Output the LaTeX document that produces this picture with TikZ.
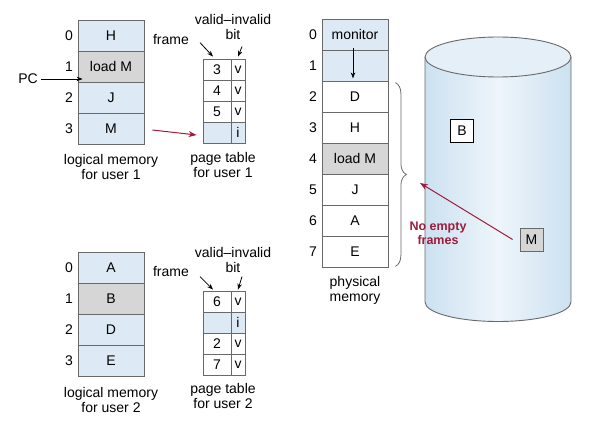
\documentclass[tikz,border=0pt]{standalone}
\usepackage{fontspec}
\setmainfont{Liberation Sans}
\usetikzlibrary{arrows.meta,decorations.pathreplacing}
\definecolor{memblue}{RGB}{221,234,245}
\definecolor{memgray}{RGB}{214,214,214}
\definecolor{edgec}{RGB}{105,105,105}
\definecolor{arrowred}{RGB}{158,28,60}
\definecolor{cylside}{RGB}{204,225,240}
\definecolor{cylmid}{RGB}{238,245,251}
\definecolor{cyltop}{RGB}{228,239,248}
\begin{document}
\begin{tikzpicture}[x=1pt,y=-1pt,
  txt/.style={font=\fontsize{14}{15}\selectfont, inner sep=0pt},
  cell/.style={txt, draw=edgec, line width=0.8pt, fill=memblue, minimum width=66pt, minimum height=31pt},
  wcell/.style={cell, fill=white},
  gcell/.style={cell, fill=memgray},
  ptf/.style={txt, draw=edgec, line width=0.8pt, fill=white, minimum width=28pt, minimum height=21pt},
  ptb/.style={txt, draw=edgec, line width=0.8pt, fill=white, minimum width=14pt, minimum height=21pt},
  lbl/.style={txt},
  capt/.style={txt, align=center},
  blkarrow/.style={draw=black, line width=0.8pt, -{Stealth[length=6pt,width=4.5pt]}},
  redarrow/.style={draw=arrowred, line width=1pt, -{Stealth[length=8pt,width=6pt,inset=2.5pt]}}
]
\useasboundingbox (0,0) rectangle (590,436);

% ---------- user 1 logical memory ----------
\node[cell]  (lA0) at (111,35.5)  {H};
\node[gcell] (lA1) at (111,66.5)  {load M};
\node[cell]  (lA2) at (111,97.5)  {J};
\node[cell]  (lA3) at (111,128.5) {M};
\node[lbl] (nA0) at (69,35.5)  {0};
\node[lbl] (nA1) at (69,66.5)  {1};
\node[lbl] (nA2) at (69,97.5)  {2};
\node[lbl] (nA3) at (69,128.5) {3};
\node[lbl] (pc) at (28,79) {PC};
\draw[blkarrow] ([xshift=3pt]pc.east) -- ([xshift=5pt]pc.east -| lA1.west);
\node[capt] (capA) at (111,166.5) {logical memory\\for user 1};

% ---------- user 1 page table ----------
\node[ptf] (fA0) at (217,69.5)  {3};
\node[ptb] (bA0) at (238,69.5)  {v};
\node[ptf] (fA1) at (217,90.5)  {4};
\node[ptb] (bA1) at (238,90.5)  {v};
\node[ptf] (fA2) at (217,111.5) {5};
\node[ptb] (bA2) at (238,111.5) {v};
\node[ptf,fill=memblue] (fA3) at (217,132.5) {};
\node[ptb,fill=memblue] (bA3) at (238,132.5) {i};
\node[lbl] (frA) at (171,40) {frame};
\node[capt] (viA) at (233,27) {valid–invalid\\bit};
\draw[blkarrow] ([xshift=-17pt,yshift=16pt]fA0.north) -- ([xshift=-4pt,yshift=2pt]fA0.north);
\draw[blkarrow] ([xshift=4pt,yshift=12pt]bA0.north) -- ([yshift=2pt]bA0.north);
\node[capt] (capPA) at (223,164.5) {page table\\for user 1};
\draw[redarrow] ([xshift=8pt,yshift=-1.5pt]lA3.east) -- ([xshift=-6pt,yshift=-2.5pt]fA3.west);

% ---------- user 2 logical memory ----------
\node[cell]  (lB0) at (111,267.5) {A};
\node[gcell] (lB1) at (111,298.5) {B};
\node[cell]  (lB2) at (111,329.5) {D};
\node[cell]  (lB3) at (111,360.5) {E};
\node[lbl] (nB0) at (69,267.5) {0};
\node[lbl] (nB1) at (69,298.5) {1};
\node[lbl] (nB2) at (69,329.5) {2};
\node[lbl] (nB3) at (69,360.5) {3};
\node[capt] (capB) at (111,399.5) {logical memory\\for user 2};

% ---------- user 2 page table ----------
\node[ptf] (fB0) at (217,301.5) {6};
\node[ptb] (bB0) at (238,301.5) {v};
\node[ptf,fill=memblue] (fB1) at (217,322.5) {};
\node[ptb,fill=memblue] (bB1) at (238,322.5) {i};
\node[ptf] (fB2) at (217,343.5) {2};
\node[ptb] (bB2) at (238,343.5) {v};
\node[ptf] (fB3) at (217,364.5) {7};
\node[ptb] (bB3) at (238,364.5) {v};
\node[lbl] (frB) at (171,272) {frame};
\node[capt] (viB) at (233,260) {valid–invalid\\bit};
\draw[blkarrow] ([xshift=-17pt,yshift=14pt]fB0.north) -- ([xshift=-4pt,yshift=1pt]fB0.north);
\draw[blkarrow] ([xshift=4pt,yshift=14pt]bB0.north) -- ([yshift=1pt]bB0.north);
\node[capt] (capPB) at (223,395.5) {page table\\for user 2};

% ---------- physical memory ----------
\node[cell]  (p0) at (355,34.5)  {monitor};
\node[cell]  (p1) at (355,65.5)  {};
\node[wcell] (p2) at (355,96.5)  {D};
\node[wcell] (p3) at (355,127.5) {H};
\node[gcell] (p4) at (355,158.5) {load M};
\node[wcell] (p5) at (355,189.5) {J};
\node[wcell] (p6) at (355,220.5) {A};
\node[wcell] (p7) at (355,251.5) {E};
\node[lbl] (q0) at (313,34.5)  {0};
\node[lbl] (q1) at (313,65.5)  {1};
\node[lbl] (q2) at (313,96.5)  {2};
\node[lbl] (q3) at (313,127.5) {3};
\node[lbl] (q4) at (313,158.5) {4};
\node[lbl] (q5) at (313,189.5) {5};
\node[lbl] (q6) at (313,220.5) {6};
\node[lbl] (q7) at (313,251.5) {7};
\draw[blkarrow] ([xshift=-2pt,yshift=2pt]p0.south) -- ([xshift=-2pt,yshift=3pt]p1.south);
\node[capt] (capP) at (355,290) {physical\\memory};
\draw[draw=edgec, line width=0.8pt, decorate, decoration={brace, amplitude=11pt}]
  ([xshift=7pt,yshift=-2pt]p2.north east) -- ([xshift=7pt,yshift=1pt]p7.south east);

% ---------- disk ----------
\shade[left color=cylside, right color=cylside, middle color=cylmid]
  (425,57) -- (425,302) .. controls (425,312.8) and (457.7,321.5) .. (498,321.5)
  .. controls (538.3,321.5) and (571,312.8) .. (571,302) -- (571,57) -- cycle;
\draw[draw=edgec, line width=0.9pt]
  (425,57) -- (425,302) .. controls (425,312.8) and (457.7,321.5) .. (498,321.5)
  .. controls (538.3,321.5) and (571,312.8) .. (571,302) -- (571,57);
\draw[draw=edgec, line width=0.9pt, fill=cyltop] (498,57) ellipse [x radius=73, y radius=20];
\node[txt, draw=black, line width=1.4pt, fill=white, minimum size=23pt] (dB) at (462,131) {B};
\node[txt, draw=edgec, line width=0.8pt, fill=memgray, minimum size=23pt] (dM) at (531.5,239.5) {M};
\coordinate (tgt) at (420,183);
\draw[redarrow] ([xshift=-7pt]dM.west) -- (tgt);
\node[align=center, inner sep=0pt, text=arrowred, font=\fontsize{12.5}{14}\selectfont\bfseries] (nef) at (438,233) {No empty\\frames};
\end{tikzpicture}
\end{document}
